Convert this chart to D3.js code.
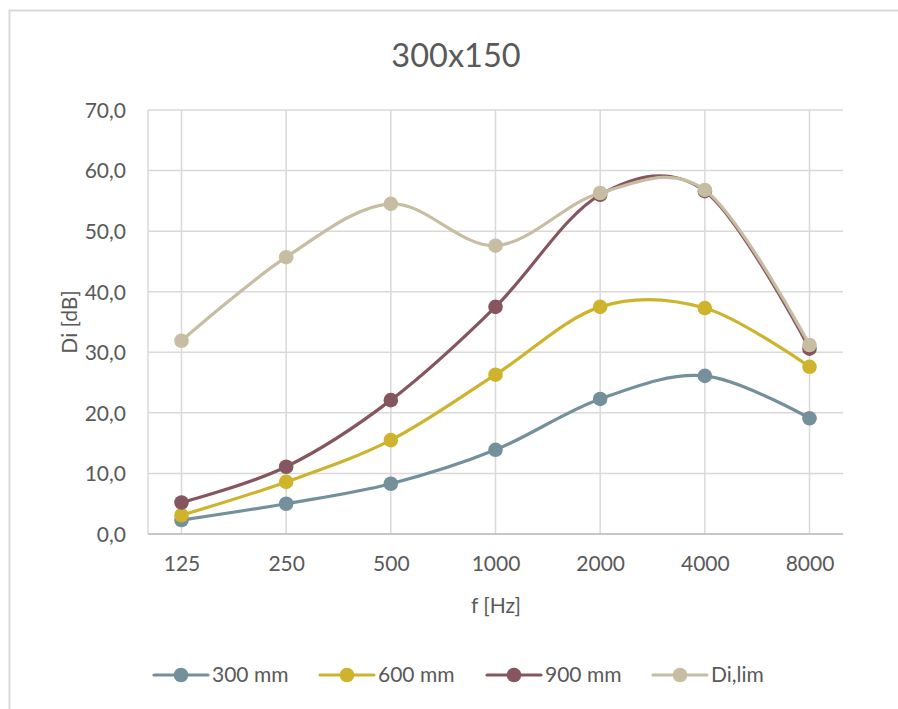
<!DOCTYPE html>
<html>
<head>
<meta charset="utf-8">
<script src="https://cdn.jsdelivr.net/npm/d3@7"></script>
<style>
  html, body { margin: 0; padding: 0; background: #fff; }
  svg { display: block; font-family: Lato, "Open Sans", sans-serif; }
</style>
</head>
<body>
<svg id="chart" width="898" height="709"></svg>
<script>
// Frequency bands (Hz)
const categories = ["125", "250", "500", "1000", "2000", "4000", "8000"];
// Directivity index Di [dB] per series
const series300 = [2.3, 5.0, 8.3, 13.9, 22.3, 26.1, 19.1];
const series600 = [3.1, 8.6, 15.5, 26.3, 37.5, 37.3, 27.6];
const series900 = [5.2, 11.1, 22.1, 37.5, 56.0, 56.6, 30.6];
const seriesLim = [31.9, 45.7, 54.5, 47.6, 56.3, 56.8, 31.2];
const seriesNames = ["300 mm", "600 mm", "900 mm", "Di,lim"];
const seriesColors = ["#74909A", "#CDB42C", "#86565E", "#C6BDA2"];
const yTicks = [0, 10, 20, 30, 40, 50, 60, 70];

const allSeries = [series300, series600, series900, seriesLim].map((vals, i) => ({
  name: seriesNames[i], color: seriesColors[i],
  points: vals.map((v, j) => ({ cat: categories[j], v }))
}));

const svg = d3.select("#chart");
const textColor = "#595959";
const gridColor = "#d9d9d9";
const labelSize = 21;

// Outer chart frame
svg.append("rect")
  .attr("x", 9.5).attr("y", 10.5).attr("width", 1000).attr("height", 1000)
  .attr("fill", "#fff").attr("stroke", "#d9d9d9").attr("stroke-width", 2);

const plot = { left: 148, right: 843, top: 110, bottom: 534 };

const x = d3.scalePoint().domain(categories)
  .range([plot.left, plot.right]).padding(0.32);
const y = d3.scaleLinear().domain([0, 70]).range([plot.bottom, plot.top]);

// Horizontal gridlines
svg.append("g").selectAll("line").data(yTicks).join("line")
  .attr("x1", plot.left).attr("x2", plot.right)
  .attr("y1", d => y(d)).attr("y2", d => y(d))
  .attr("stroke", gridColor).attr("stroke-width", 1.5);

// Vertical gridlines at each category
svg.append("g").selectAll("line").data(categories).join("line")
  .attr("x1", d => x(d)).attr("x2", d => x(d))
  .attr("y1", plot.top).attr("y2", plot.bottom)
  .attr("stroke", gridColor).attr("stroke-width", 1.5);

// Left edge of the plot area
svg.append("line")
  .attr("x1", plot.left).attr("x2", plot.left)
  .attr("y1", plot.top).attr("y2", plot.bottom)
  .attr("stroke", gridColor).attr("stroke-width", 1.5);

const yAxis = d3.axisLeft(y).tickValues(yTicks).tickSize(0).tickPadding(0)
  .tickFormat(d => d3.format(".1f")(d).replace(".", ","));
const gy = svg.append("g").attr("transform", `translate(${plot.left - 22},0)`).call(yAxis);
gy.select(".domain").remove();
gy.selectAll("text").attr("fill", textColor).attr("font-size", labelSize)
  .attr("font-family", "Lato, sans-serif").attr("dy", "0.35em");

const xAxis = d3.axisBottom(x).tickSize(0).tickPadding(0);
const gx = svg.append("g").attr("transform", `translate(0,${plot.bottom})`).call(xAxis);
gx.select(".domain").attr("stroke", "#bfbfbf").attr("stroke-width", 1.5)
  .attr("d", `M${plot.left},0H${plot.right}`);
gx.selectAll("text").attr("fill", textColor).attr("font-size", labelSize)
  .attr("font-family", "Lato, sans-serif").attr("y", 37).attr("dy", "0");

// Title and axis titles
svg.append("text").attr("x", 456).attr("y", 67).attr("text-anchor", "middle")
  .attr("font-size", 32.5).attr("fill", textColor).text("300x150");
svg.append("text").attr("transform", "translate(77,322) rotate(-90)")
  .attr("text-anchor", "middle").attr("font-size", labelSize).attr("fill", textColor).text("Di [dB]");
svg.append("text").attr("x", 496).attr("y", 613).attr("text-anchor", "middle")
  .attr("font-size", labelSize).attr("fill", textColor).text("f [Hz]");

// Smoothed series lines with markers
const line = d3.line().x(d => x(d.cat)).y(d => y(d.v)).curve(d3.curveCardinal.tension(0));
const gs = svg.append("g").selectAll("g").data(allSeries).join("g");
gs.append("path").attr("d", d => line(d.points)).attr("fill", "none")
  .attr("stroke", d => d.color).attr("stroke-width", 3.2)
  .attr("stroke-linejoin", "round").attr("stroke-linecap", "round");
gs.selectAll("circle").data(d => d.points.map(p => ({ ...p, color: d.color }))).join("circle")
  .attr("cx", d => x(d.cat)).attr("cy", d => y(d.v)).attr("r", 7.3)
  .attr("fill", d => d.color);

// Legend
const legendX = [154, 320, 487, 653];
const legendY = 675;
const lg = svg.append("g").selectAll("g").data(allSeries).join("g")
  .attr("transform", (d, i) => `translate(${legendX[i]},${legendY})`);
lg.append("line").attr("x1", 0).attr("x2", 54).attr("y1", 0).attr("y2", 0)
  .attr("stroke", d => d.color).attr("stroke-width", 3.2).attr("stroke-linecap", "round");
lg.append("circle").attr("cx", 27).attr("cy", 0).attr("r", 7.3).attr("fill", d => d.color);
lg.append("text").attr("x", 58).attr("y", 0).attr("dy", "0.35em")
  .attr("font-size", labelSize).attr("fill", textColor).text(d => d.name);
</script>
</body>
</html>
